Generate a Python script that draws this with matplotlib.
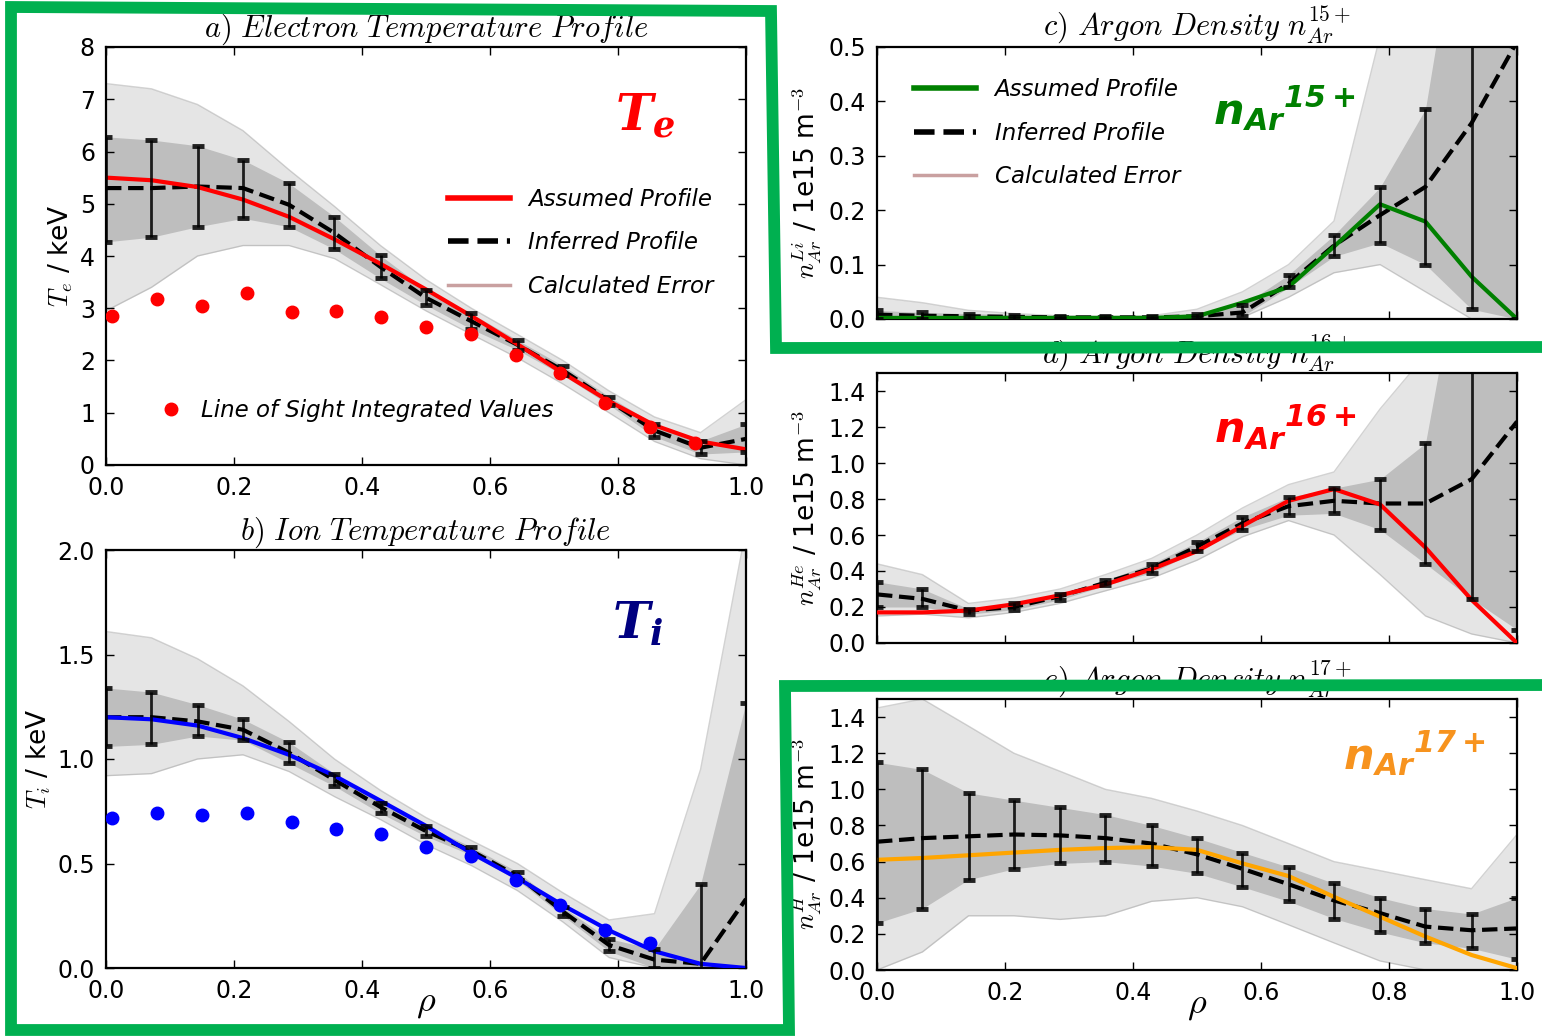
import numpy as np
import matplotlib
matplotlib.use("Agg")
import matplotlib.pyplot as plt
from matplotlib.lines import Line2D

plt.rcParams['mathtext.fontset'] = 'cm'
plt.rcParams['font.family'] = ['DejaVu Sans']
plt.rcParams['xtick.direction'] = 'in'
plt.rcParams['ytick.direction'] = 'in'
plt.rcParams['xtick.top'] = True
plt.rcParams['ytick.right'] = True

# radial grid of the inferred profiles and line of sight positions
rho = [0.0, 0.071, 0.143, 0.214, 0.286, 0.357, 0.429, 0.5, 0.571, 0.643, 0.714, 0.786, 0.857, 0.929, 1.0]
los_rho = [0.01, 0.08, 0.15, 0.22, 0.29, 0.36, 0.43, 0.50, 0.57, 0.64, 0.71, 0.78, 0.85, 0.92]

# a) electron temperature (keV)
te_assumed = [5.50, 5.45, 5.32, 5.08, 4.75, 4.32, 3.85, 3.36, 2.85, 2.31, 1.76, 1.22, 0.76, 0.45, 0.30]
te_inferred = [5.30, 5.30, 5.33, 5.30, 4.98, 4.44, 3.79, 3.20, 2.75, 2.30, 1.81, 1.23, 0.66, 0.33, 0.50]
te_lo = [4.27, 4.36, 4.56, 4.72, 4.56, 4.13, 3.57, 3.06, 2.60, 2.20, 1.72, 1.15, 0.54, 0.21, 0.25]
te_hi = [6.28, 6.22, 6.11, 5.84, 5.39, 4.75, 4.01, 3.35, 2.90, 2.39, 1.90, 1.31, 0.78, 0.46, 0.78]
te_env_lo = [2.95, 3.40, 4.00, 4.20, 4.20, 3.95, 3.45, 2.95, 2.50, 2.05, 1.55, 1.00, 0.45, 0.12, 0.00]
te_env_hi = [7.30, 7.20, 6.90, 6.40, 5.65, 4.95, 4.20, 3.55, 3.00, 2.50, 2.00, 1.42, 0.92, 0.62, 1.25]
te_los = [2.85, 3.17, 3.04, 3.30, 2.92, 2.94, 2.83, 2.64, 2.50, 2.11, 1.77, 1.19, 0.72, 0.43]

# b) ion temperature (keV)
ti_assumed = [1.20, 1.19, 1.16, 1.10, 1.02, 0.92, 0.80, 0.68, 0.55, 0.43, 0.30, 0.18, 0.08, 0.02, 0.00]
ti_inferred = [1.20, 1.20, 1.18, 1.14, 1.03, 0.90, 0.77, 0.655, 0.56, 0.44, 0.27, 0.11, 0.04, 0.02, 0.33]
ti_lo = [1.06, 1.07, 1.11, 1.09, 0.98, 0.87, 0.74, 0.63, 0.54, 0.42, 0.25, 0.08, 0.00, -0.30, -0.60]
ti_hi = [1.34, 1.32, 1.26, 1.19, 1.08, 0.93, 0.79, 0.68, 0.58, 0.46, 0.29, 0.14, 0.09, 0.40, 1.27]
ti_env_lo = [0.92, 0.93, 1.00, 1.02, 0.94, 0.82, 0.71, 0.59, 0.49, 0.37, 0.22, 0.05, 0.00, 0.00, 0.00]
ti_env_hi = [1.61, 1.58, 1.48, 1.35, 1.18, 1.00, 0.85, 0.72, 0.61, 0.50, 0.36, 0.23, 0.26, 0.95, 2.10]
ti_los = [0.72, 0.74, 0.73, 0.74, 0.70, 0.665, 0.64, 0.58, 0.535, 0.42, 0.30, 0.18, 0.12]

# c) Ar15+ density (1e15 m^-3)
ar15_assumed = [0.002, 0.002, 0.002, 0.002, 0.002, 0.002, 0.002, 0.005, 0.030, 0.059, 0.133, 0.211, 0.179, 0.078, 0.000]
ar15_inferred = [0.008, 0.006, 0.005, 0.004, 0.003, 0.003, 0.003, 0.005, 0.012, 0.065, 0.135, 0.191, 0.243, 0.360, 0.510]
ar15_lo = [0.000, 0.000, 0.000, 0.000, 0.000, 0.000, 0.000, 0.002, 0.005, 0.058, 0.115, 0.140, 0.100, 0.018, 0.000]
ar15_hi = [0.016, 0.012, 0.010, 0.008, 0.006, 0.005, 0.005, 0.010, 0.025, 0.081, 0.154, 0.242, 0.386, 0.900, 1.000]
ar15_env_lo = [0.000, 0.000, 0.000, 0.000, 0.000, 0.000, 0.000, 0.000, 0.003, 0.040, 0.085, 0.100, 0.050, 0.000, 0.000]
ar15_env_hi = [0.040, 0.030, 0.016, 0.010, 0.006, 0.005, 0.006, 0.018, 0.050, 0.100, 0.180, 0.520, 0.600, 0.700, 0.700]

# d) Ar16+ density
ar16_assumed = [0.17, 0.17, 0.18, 0.215, 0.265, 0.325, 0.41, 0.51, 0.65, 0.79, 0.855, 0.77, 0.53, 0.24, 0.00]
ar16_inferred = [0.27, 0.245, 0.18, 0.20, 0.26, 0.335, 0.415, 0.535, 0.665, 0.76, 0.79, 0.775, 0.775, 0.91, 1.23]
ar16_lo = [0.20, 0.20, 0.16, 0.185, 0.24, 0.32, 0.39, 0.51, 0.63, 0.71, 0.72, 0.63, 0.44, 0.245, 0.074]
ar16_hi = [0.34, 0.30, 0.19, 0.22, 0.27, 0.35, 0.44, 0.56, 0.70, 0.81, 0.86, 0.91, 1.11, 2.50, 3.00]
ar16_env_lo = [0.15, 0.16, 0.14, 0.17, 0.22, 0.29, 0.36, 0.46, 0.59, 0.68, 0.60, 0.38, 0.15, 0.05, 0.00]
ar16_env_hi = [0.44, 0.38, 0.22, 0.25, 0.30, 0.38, 0.47, 0.60, 0.75, 0.88, 0.95, 1.30, 1.60, 1.60, 1.60]

# e) Ar17+ density
ar17_assumed = [0.61, 0.62, 0.635, 0.65, 0.665, 0.675, 0.68, 0.665, 0.59, 0.52, 0.405, 0.295, 0.185, 0.083, 0.01]
ar17_inferred = [0.71, 0.73, 0.74, 0.75, 0.745, 0.73, 0.70, 0.64, 0.56, 0.475, 0.385, 0.315, 0.24, 0.22, 0.23]
ar17_lo = [0.26, 0.34, 0.50, 0.56, 0.59, 0.60, 0.575, 0.535, 0.46, 0.38, 0.285, 0.21, 0.15, 0.12, 0.06]
ar17_hi = [1.15, 1.11, 0.98, 0.94, 0.90, 0.86, 0.80, 0.73, 0.65, 0.57, 0.48, 0.40, 0.34, 0.31, 0.40]
ar17_env_lo = [0.00, 0.10, 0.30, 0.30, 0.28, 0.30, 0.38, 0.40, 0.35, 0.25, 0.15, 0.05, 0.00, 0.00, 0.00]
ar17_env_hi = [1.45, 1.50, 1.35, 1.20, 1.10, 1.00, 0.95, 0.88, 0.80, 0.70, 0.60, 0.55, 0.50, 0.45, 0.75]

W, H = 1542, 1036
fig = plt.figure(figsize=(W / 100, H / 100), dpi=100)


def px_axes(x0, y0, x1, y1):
    return fig.add_axes([x0 / W, 1 - y1 / H, (x1 - x0) / W, (y1 - y0) / H])


def draw_panel(ax, env_lo, env_hi, lo, hi, inferred, assumed, color):
    ax.fill_between(rho, env_lo, env_hi, color='0.55', alpha=0.22, lw=0, zorder=1)
    ax.fill_between(rho, lo, hi, color='0.35', alpha=0.28, lw=0, zorder=1)
    ax.plot(rho, env_lo, color='0.5', lw=1, alpha=0.35, zorder=1)
    ax.plot(rho, env_hi, color='0.5', lw=1, alpha=0.35, zorder=1)
    inf = np.array(inferred)
    yerr = [inf - np.array(lo), np.array(hi) - inf]
    ax.plot(rho, inferred, 'k--', lw=3, zorder=3)
    ax.plot(rho, assumed, color=color, lw=3, zorder=4)
    ax.errorbar(rho, inferred, yerr=yerr, fmt='none', ecolor='k', elinewidth=2,
                capsize=4.5, capthick=3.5, alpha=0.85, zorder=5)
    ax.set_xlim(0, 1)
    for s in ax.spines.values():
        s.set_linewidth(1.6)
    ax.tick_params(labelsize=17, length=6, width=1, pad=8)


def style_ticks(ax, yticks, yfmt, xlabels=True):
    ax.set_yticks(yticks)
    ax.set_yticklabels([yfmt.format(v) for v in yticks])
    ax.set_xticks([0.0, 0.2, 0.4, 0.6, 0.8, 1.0])
    if xlabels:
        ax.set_xticklabels(['0.0', '0.2', '0.4', '0.6', '0.8', '1.0'])
    else:
        ax.set_xticklabels([])


title_kw = dict(fontsize=22, pad=5)
ylab_kw = dict(fontsize=19, labelpad=3)
leg_font = dict(size=16.5, style='italic')

# ---- a) Te
ax_a = px_axes(106, 47, 746, 465)
draw_panel(ax_a, te_env_lo, te_env_hi, te_lo, te_hi, te_inferred, te_assumed, 'red')
ax_a.plot(los_rho, te_los, 'o', color='red', ms=9, mec='red', zorder=6)
ax_a.set_ylim(0, 8)
style_ticks(ax_a, [0, 1, 2, 3, 4, 5, 6, 7, 8], '{:d}')
ax_a.set_title(r'$a)\ Electron\ Temperature\ Profile$', **title_kw)
ax_a.set_ylabel(r'$T_e$ / keV', **ylab_kw)
h_ass = Line2D([], [], color='red', lw=4)
h_inf = Line2D([], [], color='k', lw=4, ls='--')
h_err = Line2D([], [], color='#c9a0a0', lw=2.5)
leg = ax_a.legend([h_ass, h_inf, h_err], ['Assumed Profile', 'Inferred Profile', 'Calculated Error'],
                  loc='upper left', bbox_to_anchor=(0.52, 0.685), frameon=False,
                  prop=leg_font, handlelength=2.7, labelspacing=0.9,
                  borderaxespad=0, handletextpad=0.8)
h_los = Line2D([], [], color='red', marker='o', ms=9, ls='none')
leg2 = ax_a.legend([h_los], ['Line of Sight Integrated Values'], loc='upper left',
                   bbox_to_anchor=(0.07, 0.18), frameon=False, handlelength=1.0,
                   prop=leg_font, borderaxespad=0, numpoints=1)
ax_a.add_artist(leg)
ax_a.text(0.795, 0.80, r'$\mathbfit{T_e}$', transform=ax_a.transAxes, color='red',
          fontsize=36, math_fontfamily='dejavuserif', va='baseline')

# ---- b) Ti
ax_b = px_axes(106, 550, 746, 968)
draw_panel(ax_b, ti_env_lo, ti_env_hi, ti_lo, ti_hi, ti_inferred, ti_assumed, 'blue')
ax_b.plot(los_rho[:len(ti_los)], ti_los, 'o', color='blue', ms=9, mec='blue', zorder=6)
ax_b.set_ylim(0, 2)
style_ticks(ax_b, [0.0, 0.5, 1.0, 1.5, 2.0], '{:.1f}')
ax_b.set_title(r'$b)\ Ion\ Temperature\ Profile$', **title_kw)
ax_b.set_ylabel(r'$T_i$ / keV', **ylab_kw)
ax_b.set_xlabel(r'$\rho$', fontsize=26, labelpad=-12)
ax_b.text(0.79, 0.79, r'$\mathbfit{T_i}$', transform=ax_b.transAxes, color='#000080',
          fontsize=36, math_fontfamily='dejavuserif', va='baseline')

# ---- c) Ar15+
ax_c = px_axes(877, 47, 1517, 319)
draw_panel(ax_c, ar15_env_lo, ar15_env_hi, ar15_lo, ar15_hi, ar15_inferred, ar15_assumed, 'green')
ax_c.set_ylim(0, 0.5)
style_ticks(ax_c, [0.0, 0.1, 0.2, 0.3, 0.4, 0.5], '{:.1f}', xlabels=False)
ax_c.set_title(r'$c)\ Argon\ Density\ n_{Ar}^{15+}$', **title_kw)
ax_c.set_ylabel(r'$n_{Ar}^{Li}$ / 1e15 m$^{-3}$', **ylab_kw)
h_ass_g = Line2D([], [], color='green', lw=4)
ax_c.legend([h_ass_g, h_inf, h_err], ['Assumed Profile', 'Inferred Profile', 'Calculated Error'],
            loc='upper left', bbox_to_anchor=(0.044, 0.92), frameon=False,
            prop=leg_font, handlelength=2.7, labelspacing=0.9,
            borderaxespad=0, handletextpad=0.8)
ax_c.text(0.525, 0.713, r'$\mathbfit{{n_{Ar}}^{15+}}$', transform=ax_c.transAxes, color='green',
          fontsize=31, math_fontfamily='dejavusans', va='baseline')

# ---- d) Ar16+
ax_d = px_axes(877, 373, 1517, 643)
draw_panel(ax_d, ar16_env_lo, ar16_env_hi, ar16_lo, ar16_hi, ar16_inferred, ar16_assumed, 'red')
ax_d.set_ylim(0, 1.5)
style_ticks(ax_d, [0.0, 0.2, 0.4, 0.6, 0.8, 1.0, 1.2, 1.4], '{:.1f}', xlabels=False)
ax_d.set_title(r'$d)\ Argon\ Density\ n_{Ar}^{16+}$', **title_kw)
ax_d.set_ylabel(r'$n_{Ar}^{He}$ / 1e15 m$^{-3}$', **ylab_kw)
ax_d.text(0.527, 0.74, r'$\mathbfit{{n_{Ar}}^{16+}}$', transform=ax_d.transAxes, color='red',
          fontsize=31, math_fontfamily='dejavusans', va='baseline')

# ---- e) Ar17+
ax_e = px_axes(877, 699, 1517, 970)
draw_panel(ax_e, ar17_env_lo, ar17_env_hi, ar17_lo, ar17_hi, ar17_inferred, ar17_assumed, 'orange')
ax_e.set_ylim(0, 1.5)
style_ticks(ax_e, [0.0, 0.2, 0.4, 0.6, 0.8, 1.0, 1.2, 1.4], '{:.1f}')
ax_e.set_title(r'$e)\ Argon\ Density\ n_{Ar}^{17+}$', **title_kw)
ax_e.set_ylabel(r'$n_{Ar}^{H}$ / 1e15 m$^{-3}$', **ylab_kw)
ax_e.set_xlabel(r'$\rho$', fontsize=26, labelpad=-12)
ax_e.text(0.728, 0.738, r'$\mathbfit{{n_{Ar}}^{17+}}$', transform=ax_e.transAxes, color='#f7931e',
          fontsize=31, math_fontfamily='dejavusans', va='baseline')

# green highlight outline drawn over the figure (pixel positions)
outline_px = [(1560, 685), (785, 686), (789, 1030), (11, 1030), (11, 7),
              (771, 11), (776, 348), (1560, 347)]
ox = [p[0] / W for p in outline_px]
oy = [1 - p[1] / H for p in outline_px]
fig.add_artist(Line2D(ox, oy, transform=fig.transFigure, color='#00b050', lw=8.5,
                      solid_joinstyle='miter', solid_capstyle='projecting', zorder=20))

fig.savefig('out.png', dpi=100)
